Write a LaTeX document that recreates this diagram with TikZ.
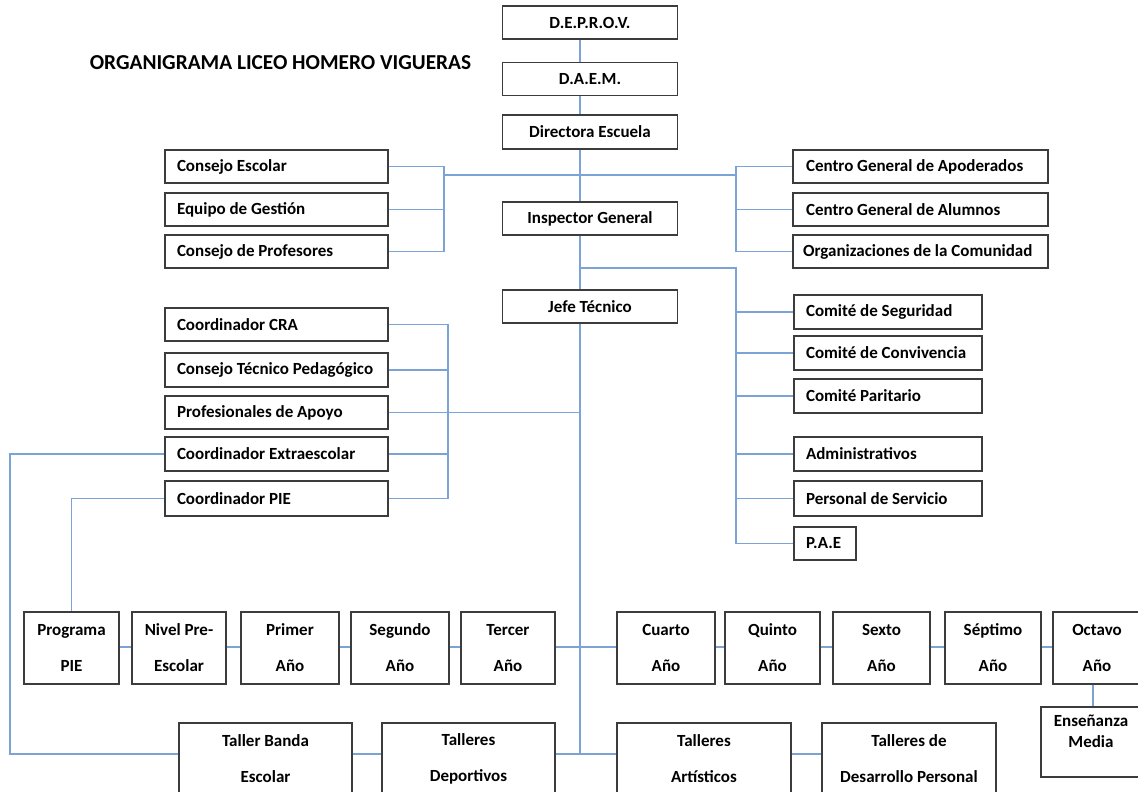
\documentclass[tikz,border=0pt]{standalone}
\usepackage{fontspec}
\setmainfont{Carlito}
\definecolor{lk}{RGB}{124,163,214}
\definecolor{bd}{RGB}{60,60,60}
\tikzset{
 box/.style={draw=bd, line width=1.2pt, fill=white, inner sep=0pt, font=\bfseries\fontsize{17}{20}\selectfont},
 cbox/.style={box, align=center},
 lbox/.style={box, align=flush left, inner xsep=12pt},
 tbox/.style={box, align=center, font=\bfseries\fontsize{17}{36}\selectfont},
 link/.style={draw=lk, line width=1.3pt},
 ttl/.style={font=\bfseries\fontsize{21.3}{24}\selectfont, inner sep=0pt}
}
\begin{document}
\begin{tikzpicture}[x=1pt,y=-1pt]
\useasboundingbox (0,0) rectangle (1138,792);
\clip (0,0) rectangle (1138,792);
\fill[white] (0,0) rectangle (1138,792);
\node[ttl] (title) at (280.5,63) {ORGANIGRAMA LICEO HOMERO VIGUERAS};
% central column
\node[cbox, minimum width=175pt, minimum height=33pt] (deprov) at (590,22.5) {D.E.P.R.O.V.};
\node[cbox, minimum width=175pt, minimum height=33pt] (daem) at (590,79) {D.A.E.M.};
\node[cbox, minimum width=175pt, minimum height=34pt] (dir) at (590,132) {Directora Escuela};
\node[cbox, minimum width=175pt, minimum height=33pt] (insp) at (590,218.5) {Inspector General};
\node[cbox, minimum width=175pt, minimum height=33pt] (jefe) at (590,306.5) {Jefe Técnico};
% left top
\node[lbox, text width=199pt, minimum height=33pt] (ce) at (276.5,166.5) {Consejo Escolar};
\node[lbox, text width=199pt, minimum height=33pt] (eg) at (276.5,209.5) {Equipo de Gestión};
\node[lbox, text width=199pt, minimum height=33pt] (cp) at (276.5,251.5) {Consejo de Profesores};
% right top
\node[lbox, inner xsep=13pt, text width=229pt, minimum height=33pt] (cga) at (920.5,166.5) {Centro General de Apoderados};
\node[lbox, inner xsep=13pt, text width=229pt, minimum height=33pt] (cgal) at (920.5,209.5) {Centro General de Alumnos};
\node[lbox, inner xsep=10pt, text width=235pt, minimum height=33pt] (oc) at (920.5,251.5) {\mbox{Organizaciones de la Comunidad}};
% left middle
\node[lbox, text width=199pt, minimum height=33pt] (cra) at (276.5,324.5) {Coordinador CRA};
\node[lbox, text width=199pt, minimum height=34pt] (ctp) at (276.5,370) {\mbox{Consejo Técnico Pedagógico}};
\node[lbox, text width=199pt, minimum height=33pt] (pa) at (276.5,412.5) {Profesionales de Apoyo};
\node[lbox, text width=199pt, minimum height=34pt] (cext) at (276.5,454) {Coordinador Extraescolar};
\node[lbox, text width=199pt, minimum height=35pt] (cpie) at (276.5,498.5) {Coordinador PIE};
% right middle
\node[lbox, text width=164pt, minimum height=34pt] (cs) at (888,312) {Comité de Seguridad};
\node[lbox, text width=164pt, minimum height=34pt] (cc) at (888,353) {Comité de Convivencia};
\node[lbox, text width=164pt, minimum height=34pt] (cpar) at (888,396) {Comité Paritario};
\node[lbox, text width=164pt, minimum height=34pt] (adm) at (888,454) {Administrativos};
\node[lbox, text width=164pt, minimum height=35pt] (ps) at (888,498.5) {Personal de Servicio};
\node[lbox, text width=38pt, minimum height=33pt] (pae) at (825,543.5) {P.A.E};
% grades row
\node[tbox, minimum width=95pt, minimum height=72pt] (prog) at (71.5,648) {Programa\\PIE};
\node[tbox, minimum width=94pt, minimum height=72pt] (nivel) at (179,648) {Nivel Pre-\\Escolar};
\node[tbox, minimum width=98pt, minimum height=72pt] (primer) at (290,648) {Primer\\Año};
\node[tbox, minimum width=98pt, minimum height=72pt] (segundo) at (400,648) {Segundo\\Año};
\node[tbox, minimum width=94pt, minimum height=72pt] (tercer) at (508,648) {Tercer\\Año};
\node[tbox, minimum width=98pt, minimum height=72pt] (cuarto) at (666,648) {Cuarto\\Año};
\node[tbox, minimum width=95pt, minimum height=72pt] (quinto) at (772.5,648) {Quinto\\Año};
\node[tbox, minimum width=97pt, minimum height=72pt] (sexto) at (881.5,648) {Sexto\\Año};
\node[tbox, minimum width=96pt, minimum height=72pt] (septimo) at (993,648) {Séptimo\\Año};
\node[tbox, minimum width=88pt, minimum height=72pt] (oct) at (1097,648) {Octavo\\Año};
\node[cbox, font=\bfseries\fontsize{17}{21}\selectfont, minimum width=100pt, minimum height=70pt] (em) at (1091,742) {Enseñanza\\Media\\~};
% talleres
\node[tbox, minimum width=173pt, minimum height=72pt] (tbanda) at (265.5,759) {Taller Banda\\Escolar};
\node[tbox, minimum width=173pt, minimum height=72pt] (tdep) at (468.5,759) {Talleres\\Deportivos};
\node[tbox, minimum width=174pt, minimum height=72pt] (tart) at (704,759) {Talleres\\Artísticos};
\node[tbox, minimum width=174pt, minimum height=72pt] (tdes) at (909,759) {Talleres de\\Desarrollo Personal};
% helper coordinates
\coordinate (sp) at (580,0);
\coordinate (lb) at (444,0);
\coordinate (rb) at (736,0);
\coordinate (lb2) at (448,0);
\coordinate (fx) at (10,0);
\coordinate (ty) at (0,754);
\coordinate (ry) at (0,647);
\coordinate (hy) at (0,175);
\coordinate (by) at (0,268);
\coordinate (omx) at (1093,0);
% connectors
\draw[link] (deprov.south -| sp) -- (daem.north -| sp);
\draw[link] (daem.south -| sp) -- (dir.north -| sp);
\draw[link] (dir.south -| sp) -- (insp.north -| sp);
\draw[link] (lb |- hy) -- (rb |- hy);
\draw[link] (ce.east) -- (ce.east -| lb) -- (cp.east -| lb) -- (cp.east);
\draw[link] (eg.east) -- (eg.east -| lb);
\draw[link] (cga.west) -- (cga.west -| rb) -- (oc.west -| rb) -- (oc.west);
\draw[link] (cgal.west) -- (cgal.west -| rb);
\draw[link] (insp.south -| sp) -- (jefe.north -| sp);
\draw[link] (sp |- by) -- (rb |- by) -- (pae.west -| rb) -- (pae.west);
\foreach \n in {cs,cc,cpar,adm,ps} \draw[link] (\n.west -| rb) -- (\n.west);
\draw[link] (jefe.south -| sp) -- (sp |- ty);
\draw[link] (cra.east) -- (cra.east -| lb2) -- (cpie.east -| lb2) -- (cpie.east);
\draw[link] (ctp.east) -- (ctp.east -| lb2);
\draw[link] (cext.east) -- (cext.east -| lb2);
\draw[link] (pa.east) -- (pa.east -| sp);
\draw[link] (cext.west) -- (cext.west -| fx) -- (fx |- ty) -- (tbanda.west |- ty);
\draw[link] (cpie.west) -- (cpie.west -| prog.north) -- (prog.north);
\draw[link] (prog.east |- ry) -- (nivel.west |- ry);
\draw[link] (nivel.east |- ry) -- (primer.west |- ry);
\draw[link] (primer.east |- ry) -- (segundo.west |- ry);
\draw[link] (segundo.east |- ry) -- (tercer.west |- ry);
\draw[link] (tercer.east |- ry) -- (cuarto.west |- ry);
\draw[link] (cuarto.east |- ry) -- (quinto.west |- ry);
\draw[link] (quinto.east |- ry) -- (sexto.west |- ry);
\draw[link] (sexto.east |- ry) -- (septimo.west |- ry);
\draw[link] (septimo.east |- ry) -- (oct.west |- ry);
\draw[link] (oct.south -| omx) -- (em.north -| omx);
\draw[link] (tbanda.east |- ty) -- (tdep.west |- ty);
\draw[link] (tdep.east |- ty) -- (tart.west |- ty);
\draw[link] (tart.east |- ty) -- (tdes.west |- ty);
\end{tikzpicture}
\end{document}
